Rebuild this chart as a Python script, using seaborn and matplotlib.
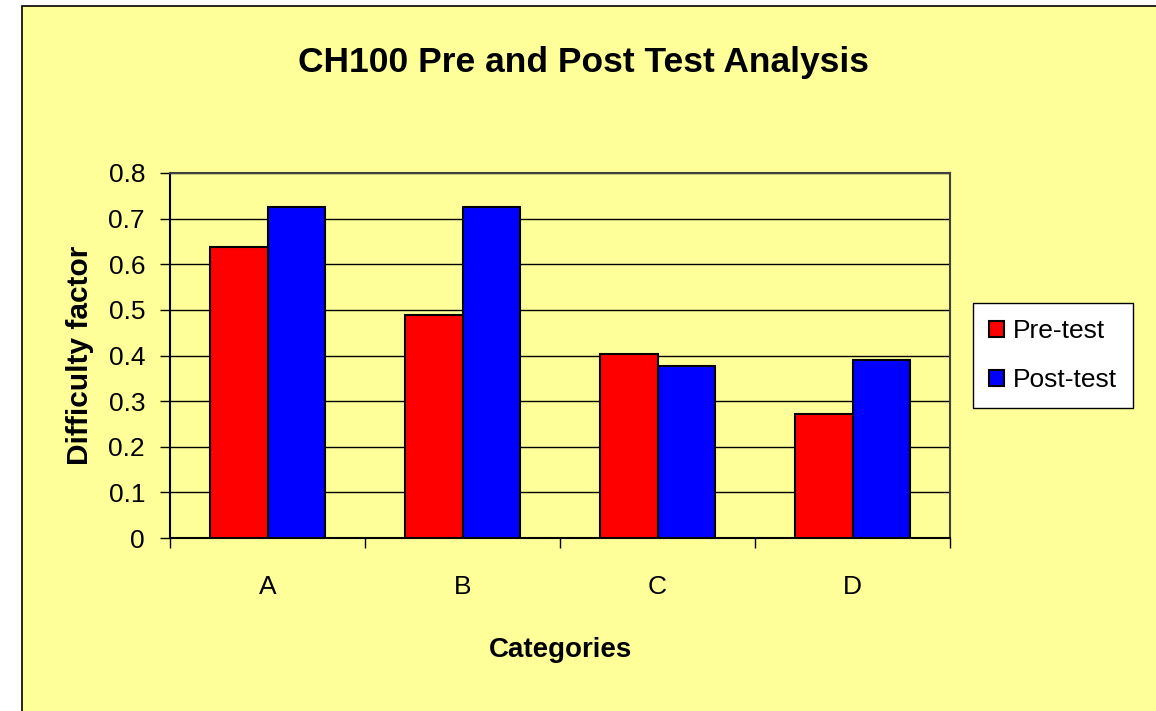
import matplotlib
matplotlib.use("Agg")
import matplotlib.pyplot as plt
import matplotlib.ticker as ticker
from matplotlib.patches import Rectangle
import seaborn as sns
import pandas as pd

categories = ["A", "B", "C", "D"]
pre_test = [0.637, 0.489, 0.403, 0.272]
post_test = [0.725, 0.725, 0.378, 0.390]
series_names = ["Pre-test", "Post-test"]
y_ticks = [0, 0.1, 0.2, 0.3, 0.4, 0.5, 0.6, 0.7, 0.8]

YELLOW = "#FFFF99"

df = pd.DataFrame({
    "category": categories * 2,
    "value": pre_test + post_test,
    "series": [series_names[0]] * 4 + [series_names[1]] * 4,
})

sns.set_theme(style="white")
plt.rcParams["font.family"] = ["Liberation Sans", "DejaVu Sans"]
plt.rcParams["text.color"] = "black"
plt.rcParams["axes.labelcolor"] = "black"
plt.rcParams["xtick.color"] = "black"
plt.rcParams["ytick.color"] = "black"

fig = plt.figure(figsize=(11.56, 7.11), dpi=100, facecolor="white")

# yellow chart frame behind everything
frame = Rectangle((22 / 1156, -0.05), 1.1, (705 / 711) + 0.05,
                  transform=fig.transFigure, facecolor=YELLOW,
                  edgecolor="black", linewidth=1.2, zorder=-10)
fig.patches.append(frame)

ax = fig.add_axes([170 / 1156, 173 / 711, 780 / 1156, 365 / 711])
ax.set_facecolor(YELLOW)

sns.barplot(data=df, x="category", y="value", hue="series",
            palette=["#FF0000", "#0000FF"], edgecolor="black",
            linewidth=1.5, width=0.585, saturation=1, ax=ax, zorder=3)

ax.set_ylim(0, 0.8)
ax.set_xlim(-0.5, 3.5)
ax.set_yticks(y_ticks)
ax.yaxis.set_major_formatter(ticker.FormatStrFormatter("%g"))
ax.yaxis.grid(True, color="black", linewidth=1)
ax.set_axisbelow(True)

ax.set_xticks(range(len(categories)))
ax.set_xticklabels(categories)
ax.set_xticks([-0.5, 0.5, 1.5, 2.5, 3.5], minor=True)
ax.tick_params(axis="x", which="major", length=0, pad=27, labelsize=19)
ax.tick_params(axis="x", which="minor", length=7, width=1, color="black",
               direction="out", bottom=True)
ax.tick_params(axis="y", length=7, width=1, color="black", direction="out",
               left=True, labelsize=19, pad=11)

for side in ["top", "right"]:
    ax.spines[side].set_color("#404040")
    ax.spines[side].set_linewidth(1.5)
for side in ["left", "bottom"]:
    ax.spines[side].set_color("black")
    ax.spines[side].set_linewidth(1.5)

ax.set_xlabel("Categories", fontsize=20, fontweight="bold", labelpad=27)
ax.set_ylabel("Difficulty factor", fontsize=21.5, fontweight="bold",
              labelpad=10)
fig.suptitle("CH100 Pre and Post Test Analysis", fontsize=25.5,
             fontweight="bold", x=583 / 1156, y=0.935)

leg = ax.legend(loc="center left", bbox_to_anchor=(1.03, 0.5),
                frameon=True, fontsize=19, handlelength=0.55,
                handleheight=0.55, handletextpad=0.35, labelspacing=0.95,
                borderpad=0.6, borderaxespad=0, fancybox=False,
                framealpha=1)
leg.get_frame().set_edgecolor("black")
leg.get_frame().set_facecolor("white")
leg.get_frame().set_linewidth(1)
for h in leg.legend_handles:
    h.set_edgecolor("black")
    h.set_linewidth(1.5)

fig.savefig("out.png", dpi=100, facecolor="white")
